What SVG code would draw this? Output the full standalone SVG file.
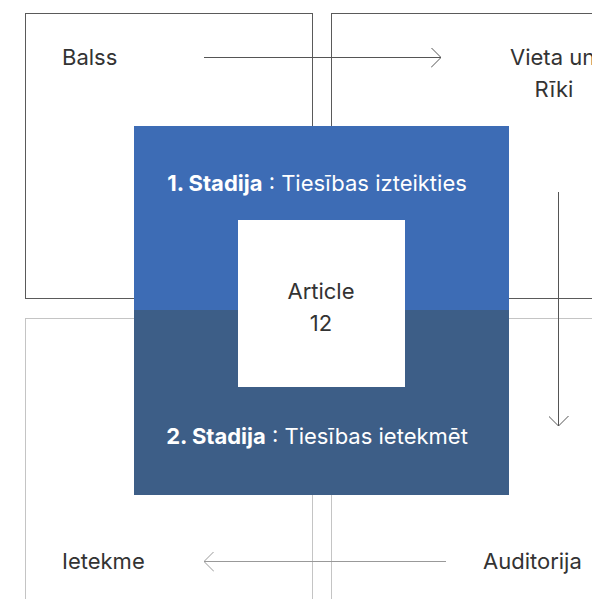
<svg xmlns="http://www.w3.org/2000/svg" width="592" height="599" viewBox="0 0 592 599">
<style>
.bt{fill:none;stroke:#5a5a5a;stroke-width:1}
.bb{fill:none;stroke:#c4c4c4;stroke-width:1}
.lbl{font-family:Inter,"Liberation Sans",sans-serif;font-size:22px;fill:#333}
.st{font-family:Inter,"Liberation Sans",sans-serif;font-size:22px;fill:#fff;text-anchor:middle}
.c1{fill:none;stroke:#555;stroke-width:1}
.c2{fill:none;stroke:#999;stroke-width:1}
</style>
<defs>
<marker id="a1" viewBox="0 0 10 20" refX="10" refY="10" markerWidth="10" markerHeight="20" markerUnits="userSpaceOnUse" orient="auto"><path d="M0,0 L10,10 L0,20" fill="none" stroke="#555" stroke-width="1"/></marker>
<marker id="a2" viewBox="0 0 10 20" refX="10" refY="10" markerWidth="10" markerHeight="20" markerUnits="userSpaceOnUse" orient="auto"><path d="M0,0 L10,10 L0,20" fill="none" stroke="#999" stroke-width="1"/></marker>
</defs>
<g id="node-balss"><rect class="bt" x="25.5" y="13.5" width="287" height="285"/><text class="lbl" x="62" y="65">Balss</text></g>
<g id="node-vieta"><rect class="bt" x="331.5" y="13.5" width="280" height="285"/><text class="lbl" x="510" y="65">Vieta un</text><text class="lbl" x="554" y="97" text-anchor="middle">Rīki</text></g>
<g id="node-ietekme"><rect class="bb" x="25.5" y="318.5" width="287" height="300"/><text class="lbl" x="62" y="569">Ietekme</text></g>
<g id="node-auditorija"><rect class="bb" x="331.5" y="318.5" width="280" height="300"/><text class="lbl" x="483" y="569">Auditorija</text></g>
<g id="connectors">
<line class="c1" x1="204" y1="57.5" x2="441" y2="57.5" marker-end="url(#a1)"/>
<line class="c1" x1="558.5" y1="192" x2="558.5" y2="426" marker-end="url(#a1)"/>
<line class="c2" x1="446" y1="561.5" x2="204" y2="561.5" marker-end="url(#a2)"/>
</g>
<g id="node-stadija1"><rect x="134" y="126" width="375" height="184" fill="#3d6cb5"/><text class="st" x="317" y="191"><tspan font-weight="bold">1. Stadija</tspan> : Tiesības izteikties</text></g>
<g id="node-stadija2"><rect x="134" y="310" width="375" height="185" fill="#3d5e87"/><text class="st" x="317" y="444"><tspan font-weight="bold">2. Stadija</tspan> : Tiesības ietekmēt</text></g>
<g id="node-article"><rect x="238" y="220" width="167" height="167" fill="#fff"/><text class="lbl" x="321" y="299" text-anchor="middle">Article</text><text class="lbl" x="321" y="331" text-anchor="middle">12</text></g>
</svg>
